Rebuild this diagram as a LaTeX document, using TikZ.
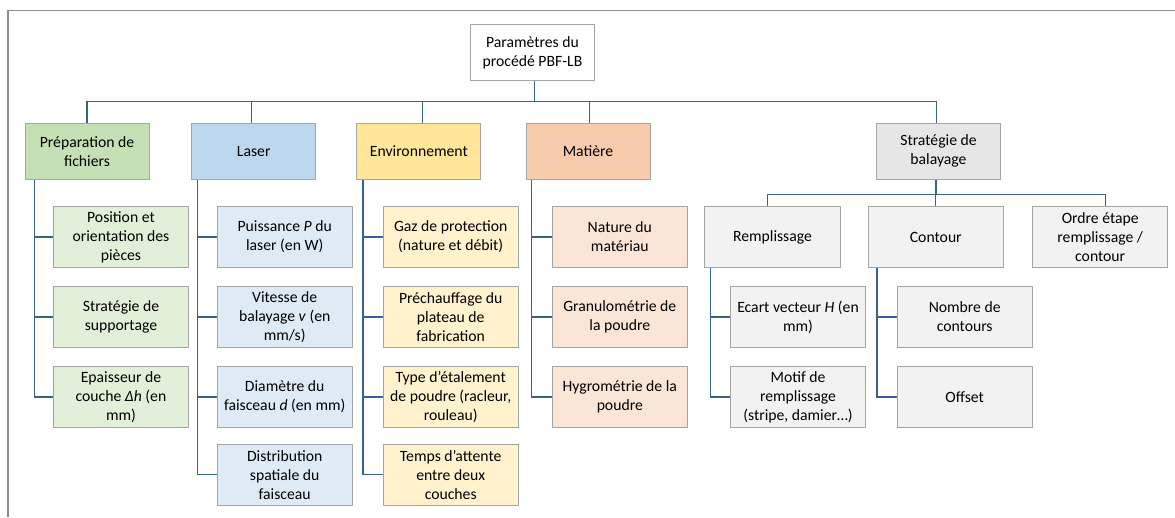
\documentclass[tikz,border=0pt]{standalone}
\usepackage{fontspec}
\setmainfont{Carlito}
\definecolor{linecol}{HTML}{35628F}
\definecolor{boxborder}{HTML}{A5A5A5}
\definecolor{framecol}{HTML}{8F8F8F}
\definecolor{greenA}{HTML}{C5E0B4}
\definecolor{greenB}{HTML}{E2F0D9}
\definecolor{blueA}{HTML}{BDD7EE}
\definecolor{blueB}{HTML}{DEEBF7}
\definecolor{yellowA}{HTML}{FFE699}
\definecolor{yellowB}{HTML}{FFF2CC}
\definecolor{orangeA}{HTML}{F8CBAD}
\definecolor{orangeB}{HTML}{FBE5D6}
\definecolor{grayA}{HTML}{E7E6E6}
\definecolor{grayB}{HTML}{F2F2F2}
\begin{document}
\begin{tikzpicture}[x=1pt,y=-1pt,
  basebox/.style={draw=boxborder, line width=1pt, inner sep=0pt, align=center,
    font=\fontsize{15.7}{19}\selectfont},
  topbox/.style={basebox, minimum width=124pt, minimum height=56.4pt},
  subbox/.style={basebox, minimum width=135.4pt, minimum height=60.6pt},
  conn/.style={draw=linecol, line width=1.3pt}]
\useasboundingbox (0,0) rectangle (1175,517);
\draw[framecol, line width=1.3pt] (1175,10.7) -- (8,10.7) -- (8,517);

% root and level 1
\node[topbox, fill=white] (root) at (532.5,52.5) {Paramètres du\\procédé PBF-LB};
\node[topbox, fill=greenA] (prep) at (87,151.2) {Préparation de\\fichiers};
\node[topbox, fill=blueA] (laser) at (253.7,151.2) {Laser};
\node[topbox, fill=yellowA] (env) at (418.85,151.2) {Environnement};
\node[topbox, fill=orangeA] (mat) at (588,151.2) {Matière};
\node[topbox, fill=grayA] (strat) at (938.5,151.2) {Stratégie de\\balayage};

% Préparation children
\node[subbox, fill=greenB] (p1) at (121,237) {Position et\\orientation des\\pièces};
\node[subbox, fill=greenB] (p2) at (121,317) {Stratégie de\\supportage};
\node[subbox, fill=greenB] (p3) at (121,397) {Epaisseur de\\couche \textit{Δh} (en\\mm)};

% Laser children
\node[subbox, fill=blueB] (l1) at (284.7,237) {Puissance \textit{P} du\\laser (en W)};
\node[subbox, fill=blueB] (l2) at (284.7,317) {Vitesse de\\balayage \textit{v} (en\\mm/s)};
\node[subbox, fill=blueB] (l3) at (284.7,397) {Diamètre du\\faisceau \textit{d} (en mm)};
\node[subbox, fill=blueB] (l4) at (284.7,474.7) {Distribution\\spatiale du\\faisceau};

% Environnement children
\node[subbox, fill=yellowB] (e1) at (450.7,237) {Gaz de protection\\(nature et débit)};
\node[subbox, fill=yellowB] (e2) at (450.7,317) {Préchauffage du\\plateau de\\fabrication};
\node[subbox, fill=yellowB] (e3) at (450.7,397) {Type d’étalement\\de poudre (racleur,\\rouleau)};
\node[subbox, fill=yellowB] (e4) at (450.7,474.7) {Temps d’attente\\entre deux\\couches};

% Matière children
\node[subbox, fill=orangeB] (m1) at (619.8,237) {Nature du\\matériau};
\node[subbox, fill=orangeB] (m2) at (619.8,317) {Granulométrie de\\la poudre};
\node[subbox, fill=orangeB] (m3) at (619.8,397) {Hygrométrie de la\\poudre};

% Stratégie children
\node[subbox, fill=grayB] (rem) at (772.5,237) {Remplissage};
\node[subbox, fill=grayB] (cont) at (935.8,237) {Contour};
\node[subbox, fill=grayB] (ordre) at (1100.2,237) {Ordre étape\\remplissage /\\contour};
\node[subbox, fill=grayB] (r1) at (798,317) {Ecart vecteur \textit{H} (en\\mm)};
\node[subbox, fill=grayB] (r2) at (798,397) {Motif de\\remplissage\\(stripe, damier…)};
\node[subbox, fill=grayB] (c1) at (964.7,317) {Nombre de\\contours};
\node[subbox, fill=grayB] (c2) at (964.7,397) {Offset};

% main bus
\coordinate (bus) at (0,101.5);
\draw[conn] ([xshift=1.8pt]root.south) -- ([xshift=1.8pt]root.south |- bus);
\draw[conn] (prep.north) -- (prep.north |- bus) -- ([xshift=-2.2pt]strat.north |- bus) -- ([xshift=-2.2pt]strat.north);
\draw[conn] ([xshift=-2pt]laser.north) -- ([xshift=-2pt]laser.north |- bus);
\draw[conn] ([xshift=3.5pt]env.north) -- ([xshift=3.5pt]env.north |- bus);
\draw[conn] ([xshift=1.3pt]mat.north) -- ([xshift=1.3pt]mat.north |- bus);

% trunks
\coordinate (pt) at ([xshift=9.7pt]prep.south west);
\draw[conn] (pt) |- (p3.west);
\draw[conn] (pt |- p1.west) -- (p1.west);
\draw[conn] (pt |- p2.west) -- (p2.west);

\coordinate (lt) at ([xshift=6.3pt]laser.south west);
\draw[conn] (lt) |- (l4.west);
\draw[conn] (lt |- l1.west) -- (l1.west);
\draw[conn] (lt |- l2.west) -- (l2.west);
\draw[conn] (lt |- l3.west) -- (l3.west);

\coordinate (et) at ([xshift=6.6pt]env.south west);
\draw[conn] (et) |- (e4.west);
\draw[conn] (et |- e1.west) -- (e1.west);
\draw[conn] (et |- e2.west) -- (e2.west);
\draw[conn] (et |- e3.west) -- (e3.west);

\coordinate (mt) at ([xshift=6.3pt]mat.south west);
\draw[conn] (mt) |- (m3.west);
\draw[conn] (mt |- m1.west) -- (m1.west);
\draw[conn] (mt |- m2.west) -- (m2.west);

% Stratégie sub-bus
\coordinate (sbus) at (0,194.7);
\draw[conn] ([xshift=-2.5pt]strat.south) -- ([xshift=-2.5pt]strat.south |- sbus);
\draw[conn] ([xshift=-5.2pt]rem.north) -- ([xshift=-5.2pt]rem.north |- sbus) -- ([xshift=5.5pt]ordre.north |- sbus) -- ([xshift=5.5pt]ordre.north);
\draw[conn] (cont.north) -- (cont.north |- sbus);

\coordinate (rt) at ([xshift=6.3pt]rem.south west);
\draw[conn] (rt) |- (r2.west);
\draw[conn] (rt |- r1.west) -- (r1.west);

\coordinate (ct) at ([xshift=9.4pt]cont.south west);
\draw[conn] (ct) |- (c2.west);
\draw[conn] (ct |- c1.west) -- (c1.west);
\end{tikzpicture}
\end{document}
